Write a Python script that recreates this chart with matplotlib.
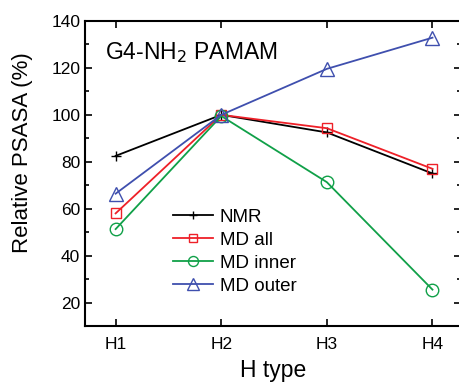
import matplotlib
matplotlib.use("Agg")
import matplotlib.pyplot as plt
from matplotlib.ticker import MultipleLocator

categories = ["H1", "H2", "H3", "H4"]
nmr = [82.5, 100, 92.5, 75]
md_all = [58, 100, 94.3, 77]
md_inner = [51.3, 99.5, 71.3, 25.5]
md_outer = [66.4, 100, 119.6, 132.9]

plt.rcParams['font.family'] = ['Liberation Sans', 'DejaVu Sans']

fig = plt.figure(figsize=(4.59, 3.83), dpi=100)
ax = fig.add_axes([85/459, 1 - 326/383, (461 - 85)/459, (326 - 21)/383])
x = range(1, 5)
lw = 1.3
ax.plot(x, nmr, color='black', marker='+', ms=7, mew=1.0, lw=lw, label='NMR')
ax.plot(x, md_all, color='#ee2028', marker='s', ms=7.5, mfc='none', mew=1.0, lw=lw, label='MD all')
ax.plot(x, md_inner, color='#10a048', marker='o', ms=9, mfc='none', mew=1.0, lw=lw, label='MD inner')
ax.plot(x, md_outer, color='#3f4fae', marker='^', ms=10, mfc='none', mew=1.0, lw=lw, label='MD outer')

ax.set_xlim(0.71, 4.27)
ax.set_ylim(10, 140)
ax.set_xticks(list(x))
ax.set_xticklabels(categories)
ax.yaxis.set_major_locator(MultipleLocator(20))
ax.yaxis.set_minor_locator(MultipleLocator(10))
ax.set_yticks([20, 40, 60, 80, 100, 120, 140])
ax.tick_params(which='both', direction='in', top=True, right=True, labelsize=12.5, width=1.2)
ax.tick_params(which='major', length=5)
ax.tick_params(which='minor', length=3)
ax.tick_params(axis='x', pad=8)
for s in ax.spines.values():
    s.set_linewidth(1.5)
ax.set_ylabel('Relative PSASA (%)', fontsize=16)
ax.yaxis.set_label_coords(-0.138, 0.567)
ax.set_xlabel('H type', fontsize=16.5, labelpad=5)
ax.text(0.053, 0.898, r'G4-NH$_2$ PAMAM', transform=ax.transAxes, fontsize=16.5, va='center',
        ha='left')
ax.legend(loc='upper left', bbox_to_anchor=(0.234, 0.385), frameon=False, fontsize=13.5,
          borderpad=0, borderaxespad=0,
          handlelength=2.13, handletextpad=0.37, labelspacing=0.31, markerscale=0.8)
fig.savefig('out.png', dpi=100)
